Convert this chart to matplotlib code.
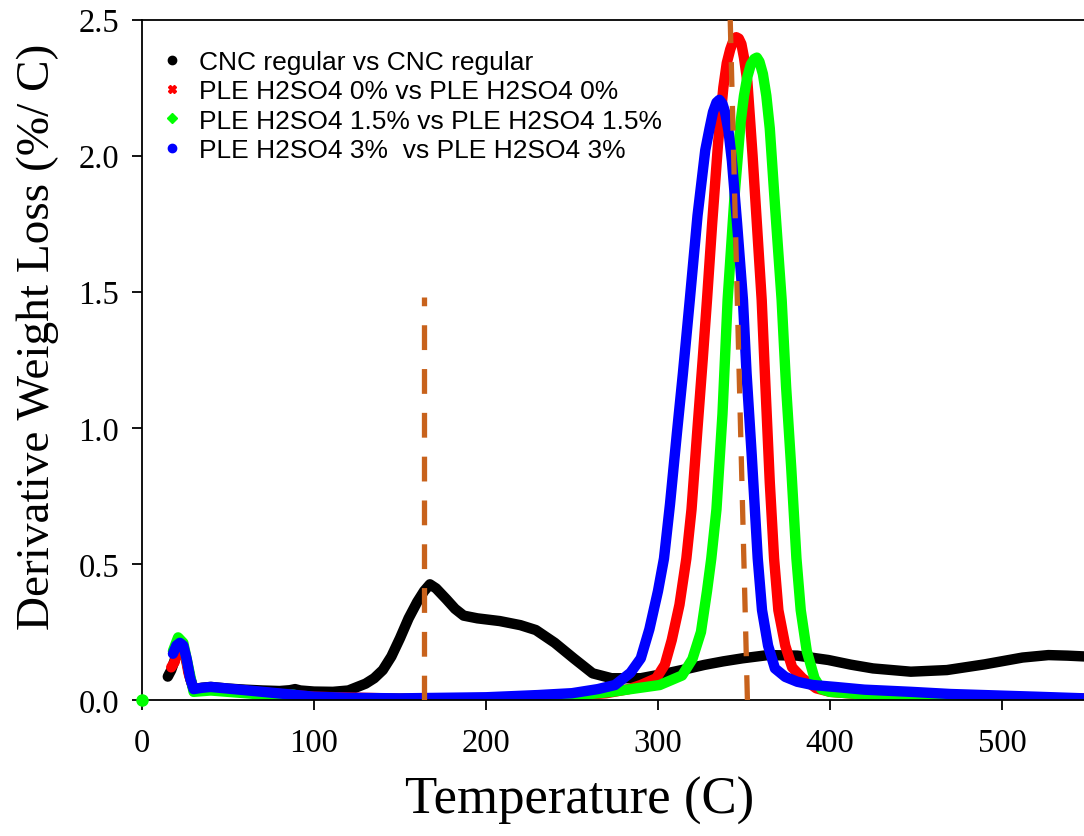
import matplotlib.pyplot as plt
from matplotlib.lines import Line2D

# CNC regular
cnc_temp = [15, 17, 20, 22, 24, 26, 28, 30, 35, 40, 50, 60, 70, 80, 86, 89, 92, 100, 111, 120,
            130, 135, 140, 145, 150, 155, 160, 164, 167.4, 171, 177, 182, 187, 195, 208, 220, 229,
            240, 251, 262, 273, 290, 305, 316, 327, 338, 349, 364, 381, 399, 412, 425, 447, 468,
            490, 512, 527, 538, 548]
cnc_dtg = [0.086, 0.11, 0.165, 0.2, 0.19, 0.14, 0.08, 0.04, 0.045, 0.048, 0.042, 0.038, 0.035,
           0.033, 0.036, 0.04, 0.035, 0.031, 0.03, 0.035, 0.06, 0.08, 0.11, 0.16, 0.227, 0.3,
           0.36, 0.4, 0.425, 0.41, 0.37, 0.335, 0.31, 0.3, 0.29, 0.275, 0.257, 0.21, 0.153,
           0.098, 0.08, 0.08, 0.098, 0.113, 0.129, 0.142, 0.153, 0.165, 0.163, 0.147, 0.13,
           0.116, 0.104, 0.11, 0.131, 0.156, 0.165, 0.163, 0.16]

# PLE H2SO4 0%
h0_temp = [17, 19, 21, 23, 25, 27, 30, 40, 60, 80, 100, 150, 200, 250, 270, 283, 290, 299, 304,
           308, 312.5, 316.5, 319.5, 323, 326, 328.5, 331.5, 335, 338, 340, 342, 344, 345.5, 347,
           348.5, 350, 352, 355, 358, 360.3, 362.5, 365, 367.5, 370, 374, 378, 384, 392, 400,
           420, 450, 500, 548]
h0_dtg = [0.12, 0.14, 0.19, 0.2, 0.17, 0.1, 0.04, 0.045, 0.034, 0.022, 0.012, 0.005, 0.007,
          0.015, 0.025, 0.04, 0.055, 0.08, 0.13, 0.22, 0.35, 0.52, 0.7, 1.0, 1.25, 1.47, 1.75,
          2.05, 2.25, 2.34, 2.39, 2.425, 2.435, 2.43, 2.41, 2.36, 2.27, 2.0, 1.7, 1.47, 1.15,
          0.8, 0.52, 0.33, 0.2, 0.12, 0.08, 0.043, 0.03, 0.02, 0.015, 0.01, 0.005]

# PLE H2SO4 1.5%
h15_temp = [18, 21, 24, 27, 30, 40, 60, 80, 88, 92, 100, 150, 200, 250, 273, 301, 314, 320, 325,
            328.5, 331, 334, 337.5, 340.5, 344.5, 348, 350, 352, 354, 356, 357.5, 359, 361, 363,
            365, 368, 371.9, 374.5, 377.5, 380.5, 383, 386.5, 391, 395, 400, 420, 450, 500, 548]
h15_dtg = [0.18, 0.23, 0.21, 0.12, 0.03, 0.035, 0.025, 0.015, 0.02, 0.012, 0.008, 0.004, 0.006,
           0.015, 0.03, 0.055, 0.09, 0.15, 0.25, 0.4, 0.52, 0.7, 1.05, 1.47, 1.85, 2.12, 2.22,
           2.29, 2.335, 2.355, 2.36, 2.345, 2.3, 2.22, 2.1, 1.82, 1.47, 1.15, 0.85, 0.52, 0.33,
           0.18, 0.08, 0.04, 0.03, 0.02, 0.015, 0.01, 0.003]

# PLE H2SO4 3%
h3_temp = [18, 20, 22, 24, 26, 28, 30, 35, 40, 50, 60, 70, 80, 90, 100, 120, 150, 200, 230, 250,
           265, 275, 284, 290, 295, 300, 303.5, 307, 311, 314.5, 318.5, 323, 327.5, 330, 332,
           334, 335.7, 337.5, 339, 341, 343, 346, 349.4, 351.5, 354.5, 358, 360.5, 364, 368,
           374, 381, 390, 403, 420, 447, 470, 490, 520, 548]
h3_dtg = [0.17, 0.2, 0.21, 0.2, 0.15, 0.08, 0.04, 0.045, 0.048, 0.042, 0.036, 0.03, 0.024,
          0.018, 0.012, 0.008, 0.006, 0.01, 0.018, 0.025, 0.04, 0.055, 0.1, 0.153, 0.26, 0.4,
          0.52, 0.72, 0.98, 1.2, 1.47, 1.78, 2.02, 2.1, 2.16, 2.195, 2.205, 2.19, 2.16, 2.09,
          1.98, 1.75, 1.47, 1.2, 0.9, 0.52, 0.33, 0.2, 0.116, 0.085, 0.067, 0.055, 0.048,
          0.038, 0.03, 0.022, 0.018, 0.012, 0.006]

# stray point at origin
origin_temp = [0]
origin_dtg = [0]

# dashed guide lines
guide1_temp = [164, 164]
guide1_dtg = [0, 1.48]
guide2_temp = [352, 342]
guide2_dtg = [0, 2.5]

labels = ["CNC regular vs CNC regular",
          "PLE H2SO4 0% vs PLE H2SO4 0%",
          "PLE H2SO4 1.5% vs PLE H2SO4 1.5%",
          "PLE H2SO4 3%  vs PLE H2SO4 3%"]

serif = ["Liberation Serif", "DejaVu Serif"]
sans = ["Liberation Sans", "DejaVu Sans"]

fig = plt.figure(figsize=(10.84, 8.37), dpi=100)
ax = fig.add_axes([142 / 1084, 136 / 837, 942 / 1084, 680.5 / 837])

lw = 7.5
ax.plot(cnc_temp, cnc_dtg, color="black", lw=lw, solid_capstyle="round", solid_joinstyle="round")
ax.plot(h0_temp, h0_dtg, color="#ff0000", lw=lw, solid_capstyle="round", solid_joinstyle="round")
ax.plot(h15_temp, h15_dtg, color="#00ff00", lw=lw, solid_capstyle="round", solid_joinstyle="round")
ax.plot(h3_temp, h3_dtg, color="#0000ff", lw=lw, solid_capstyle="round", solid_joinstyle="round")
ax.plot(origin_temp, origin_dtg, "o", color="#00ff00", ms=8, clip_on=False, zorder=5)

dash_color = "#c8621c"
ax.plot(guide1_temp, guide1_dtg, color=dash_color, lw=3.8, dashes=(4.7, 3.6), zorder=6)
ax.plot(guide2_temp, guide2_dtg, color=dash_color, lw=3.8, dashes=(4.7, 3.6), zorder=6)

ax.set_xlim(0, 547.7)
ax.set_ylim(0, 2.5)
ax.set_xticks([0, 100, 200, 300, 400, 500])
ax.set_yticks([0.0, 0.5, 1.0, 1.5, 2.0, 2.5])
ax.set_yticklabels(["%.1f" % v for v in ax.get_yticks()])

ax.spines["right"].set_visible(False)
for s in ["left", "bottom", "top"]:
    ax.spines[s].set_linewidth(1.3)
ax.tick_params(direction="out", length=7.5, width=1.3, labelsize=23.5, pad=9)
ax.tick_params(axis="x", pad=12)
for t in ax.get_xticklabels() + ax.get_yticklabels():
    t.set_family(serif)

ax.set_xlabel("Temperature (C)", fontsize=38, family=serif)
ax.set_ylabel("Derivative Weight Loss (%/ C)", fontsize=34, family=serif)
ax.xaxis.set_label_coords(0.465, -0.112)
ax.yaxis.set_label_coords(-0.088, 0.535)

handles = [
    Line2D([], [], ls="none", marker="o", color="black", ms=6),
    Line2D([], [], ls="none", marker="X", color="#ff0000", ms=6),
    Line2D([], [], ls="none", marker="D", color="#00ff00", ms=5),
    Line2D([], [], ls="none", marker="o", color="#0000ff", ms=6),
]
ax.legend(handles, labels, loc="upper left", bbox_to_anchor=(0.018, 0.955), frameon=False,
          prop={"family": sans, "size": 19}, handlelength=1.0, handletextpad=0.5,
          labelspacing=0.2, borderaxespad=0, borderpad=0)

plt.savefig("out.png", dpi=100)
